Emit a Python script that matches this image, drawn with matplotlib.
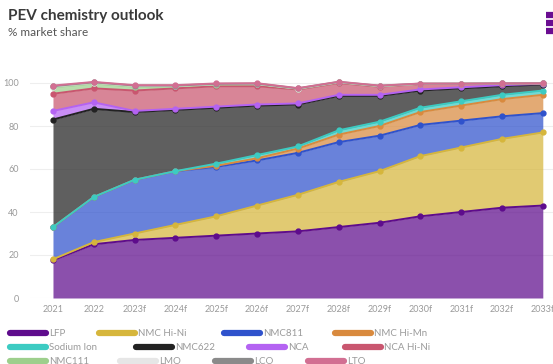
import numpy as np
import matplotlib.pyplot as plt
from matplotlib.lines import Line2D

plt.rcParams['font.family'] = ['Lato', 'DejaVu Sans']

years = ['2021', '2022', '2023f', '2024f', '2025f', '2026f', '2027f',
         '2028f', '2029f', '2030f', '2031f', '2032f', '2033f']

# market share by chemistry, % (stacked bottom to top)
lfp       = [17.5, 25, 27, 28, 29, 30, 31, 33, 35, 38, 40, 42, 43]
nmc_hi_ni = [0.5, 1, 3, 6, 9, 13, 17, 21, 24, 28, 30, 32, 34]
nmc811    = [15, 21, 25, 25, 23, 21, 19.5, 18.5, 16.5, 14.5, 12.5, 10.5, 9]
nmc_hi_mn = [0, 0, 0, 0, 0.5, 1, 2, 3.5, 4.5, 6, 7, 8, 8.5]
sodium    = [0, 0, 0, 0, 1, 1.5, 1, 2, 2, 2, 2, 2, 2]
nmc622    = [50, 41, 31.5, 28.5, 26, 23, 19.5, 16, 12, 8, 6, 4, 2.8]
nca       = [4, 3, 0.5, 0.5, 0.5, 0.5, 0.5, 0.5, 0.5, 0.5, 0.5, 0.5, 0.3]
nca_hi_ni = [8, 6.5, 9.5, 9.5, 9.5, 8.5, 6.5, 5.5, 3.8, 2.5, 1.6, 0.7, 0.2]
nmc111    = [3, 2.3, 1.8, 1.0, 0.8, 0.9, 0.3, 0.3, 0.2, 0.1, 0.1, 0.1, 0.05]
lmo       = [0.3, 0.3, 0.3, 0.2, 0.2, 0.2, 0.1, 0.1, 0.1, 0.05, 0, 0, 0]
lco       = [0.2, 0.2, 0.2, 0.1, 0.1, 0.1, 0.1, 0.1, 0.1, 0.05, 0, 0, 0]
lto       = [0.3, 0.2, 0.2, 0.2, 0.2, 0.2, 0.1, 0.1, 0.1, 0.05, 0, 0, 0]

names = ['LFP', 'NMC Hi-Ni', 'NMC811', 'NMC Hi-Mn', 'Sodium Ion', 'NMC622',
         'NCA', 'NCA Hi-Ni', 'NMC111', 'LMO', 'LCO', 'LTO']
series = [lfp, nmc_hi_ni, nmc811, nmc_hi_mn, sodium, nmc622,
          nca, nca_hi_ni, nmc111, lmo, lco, lto]
colors = ['#5e0c8c', '#d6b63c', '#2f52cc', '#d98a3e', '#3ccbc2', '#222222',
          '#b463f2', '#c9566f', '#9dcf8c', '#e6e6e6', '#8a8a8a', '#d26f92']

fig = plt.figure(figsize=(5.53, 3.64), dpi=100)
ax = fig.add_axes([30 / 553, 66 / 364, 523 / 553, 236.5 / 364])

x = np.arange(len(years))
stack = np.cumsum(np.array(series, dtype=float), axis=0)
base = np.zeros(len(years))
for top, c in zip(stack, colors):
    ax.fill_between(x, base, top, color=c, alpha=0.72, lw=0, zorder=2)
    base = top
for top, c in zip(stack, colors):
    ax.plot(x, top, color=c, lw=1.4, marker='o', ms=3.5, zorder=3)

ax.set_xlim(-0.563, 12.25)
ax.set_ylim(0, 110)
ax.set_xticks(x)
ax.set_xticklabels(years)
ax.set_yticks([0, 20, 40, 60, 80, 100])
ax.tick_params(length=0, labelsize=6.5, labelcolor='#9a9a9a', pad=5)
ax.tick_params(axis='y', pad=8)
ax.grid(axis='y', color='#eeeeee', lw=0.8, zorder=0)
for s in ax.spines.values():
    s.set_visible(False)

fig.text(8 / 553, 1 - 16 / 364, 'PEV chemistry outlook', fontsize=11,
         fontweight='bold', color='#3a3a3a', va='center')
fig.text(8 / 553, 1 - 32 / 364, '% market share', fontsize=8.5,
         color='#555555', va='center')

# menu icon, top right
for yy in (15, 23, 31):
    fig.add_artist(Line2D([546 / 553, 1.0], [1 - yy / 364] * 2,
                          color='#6a0d91', lw=4.5, solid_capstyle='butt'))

# legend swatches, laid out left to right in three rows
swatch_x = [8, 97, 222, 333,
            8, 134, 247, 343,
            8, 118, 213, 306]
row_y = [333, 347, 361]
for i, (name, c) in enumerate(zip(names, colors)):
    px = swatch_x[i]
    py = 1 - row_y[i // 4] / 364
    fig.add_artist(Line2D([(px + 2) / 553, (px + 38) / 553], [py, py],
                          color=c, lw=4.5, solid_capstyle='round'))
    fig.text((px + 41) / 553, py, name, fontsize=7, color='#9a9a9a',
             va='center')

fig.savefig('out.png', dpi=100)
